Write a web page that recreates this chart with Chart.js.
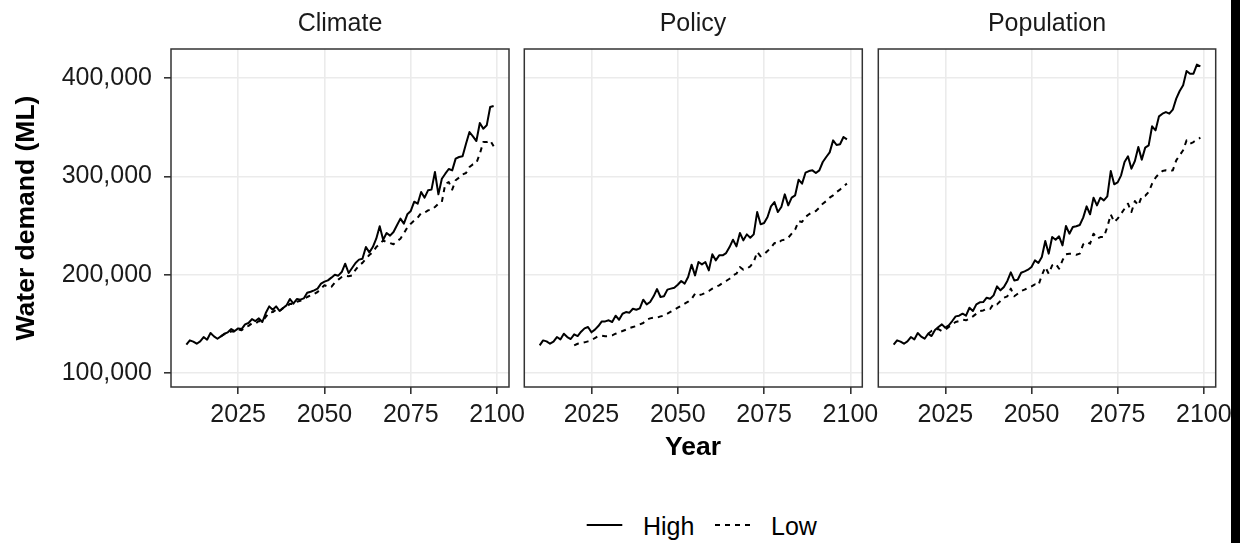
<!DOCTYPE html>
<html>
<head>
<meta charset="utf-8">
<script src="https://cdn.jsdelivr.net/npm/chart.js@4.4.1/dist/chart.umd.min.js"></script>
<style>
  body { margin: 0; background: #fff; }
  #wrap { position: relative; width: 1240px; height: 543px; overflow: hidden;
          font-family: 'Liberation Sans', Arial, sans-serif; color: #000; }
  #wrap canvas { position: absolute; left: 0; top: 0; }
  .txt { position: absolute; font-size: 25px; line-height: 24px; white-space: nowrap; }
  .strip { width: 400px; text-align: center; top: 10px; color: #1a1a1a; }
  .bold { font-weight: bold; font-size: 26.5px; }
  #edge { position: absolute; left: 1231px; top: 0; width: 9px; height: 543px; background: #000; }
</style>
</head>
<body>
<div id="wrap">
  <canvas id="pClimate" width="1240" height="440"></canvas>
  <canvas id="pPolicy" width="1240" height="440"></canvas>
  <canvas id="pPopulation" width="1240" height="440"></canvas>

  <div class="txt strip" style="left:140px">Climate</div>
  <div class="txt strip" style="left:493px">Policy</div>
  <div class="txt strip" style="left:847px">Population</div>

  <div class="txt bold" style="left:-125px; top:206px; width:300px; text-align:center; transform:rotate(-90deg)">Water demand (ML)</div>
  <div class="txt bold" style="left:593px; top:434px; width:200px; text-align:center">Year</div>

  <svg style="position:absolute; left:580px; top:515px" width="260" height="20">
    <line x1="6.7" y1="10" x2="42.3" y2="10" stroke="#000" stroke-width="2"/>
    <line x1="135" y1="10" x2="172.3" y2="10" stroke="#000" stroke-width="2" stroke-dasharray="5,5"/>
  </svg>
  <div class="txt" style="left:643px; top:514px">High</div>
  <div class="txt" style="left:771px; top:514px">Low</div>

  <div id="edge"></div>
</div>

<script>
// years on the x axis, Low scenarios start in 2020
var years = [2010,2011,2012,2013,2014,2015,2016,2017,2018,2019,
  2020,2021,2022,2023,2024,2025,2026,2027,2028,2029,
  2030,2031,2032,2033,2034,2035,2036,2037,2038,2039,
  2040,2041,2042,2043,2044,2045,2046,2047,2048,2049,
  2050,2051,2052,2053,2054,2055,2056,2057,2058,2059,
  2060,2061,2062,2063,2064,2065,2066,2067,2068,2069,
  2070,2071,2072,2073,2074,2075,2076,2077,2078,2079,
  2080,2081,2082,2083,2084,2085,2086,2087,2088,2089,
  2090,2091,2092,2093,2094,2095,2096,2097,2098,2099];
var lowYears = years.slice(10);

var xTicks = [2025, 2050, 2075, 2100];
var yTicks = [100000, 200000, 300000, 400000];

// water demand (ML)
var climateHigh = [128800,133200,131900,129800,132200,136600,133900,140700,137300,134900,
  137300,140000,141400,144700,142700,145400,144700,149500,150900,154900,
  152900,155600,151900,161000,167800,164400,167800,163100,166100,168800,
  175300,170500,175300,174600,175900,181700,182700,184100,185800,190900,
  192900,194200,197000,200000,199000,202700,211200,201700,206800,211900,
  215300,216300,228100,222700,228100,236600,249200,235600,242400,239700,
  243400,250200,257000,251900,261400,264800,274200,272200,284100,278300,
  285800,286500,304400,281700,297600,302700,307500,306100,318000,319700,
  320400,333200,345100,340700,335900,354300,348500,351900,370500,371500];
var climateLow = [137300,139500,140500,142500,142000,144500,143500,146500,148000,150500,
  150200,153000,152500,157000,161500,162000,164500,163000,166000,167000,
  170500,170000,172500,173500,175000,177300,179000,180500,182400,186000,
  189200,188000,187500,192000,195000,197600,199000,198500,199300,205000,
  209500,212000,216300,220000,223000,228100,231000,234900,233000,232200,
  230900,234000,236600,242000,248000,251900,255000,258000,262700,263000,
  265400,266000,268800,272200,273900,292600,294200,286500,296000,298700,
  302000,303400,309500,312200,313600,323000,334900,334900,336600,330500];

var policyHigh = [128100,133200,132200,129800,131900,136600,134200,140000,136600,134600,
  139300,137600,142000,145400,146800,141400,144100,147800,152500,152500,
  153600,151900,158300,154200,160300,162000,161400,165400,164400,165800,
  174600,169800,172200,178000,185400,177300,178000,184800,185800,186800,
  189800,193600,190900,197600,210200,199300,212900,210500,212900,204400,
  220700,214600,219700,219700,222000,228100,235600,228800,242400,234900,
  241000,237600,241000,263700,251200,252600,258700,269500,273900,263700,
  268800,281700,270500,278300,280700,296600,292600,303700,305400,306100,
  303400,306100,314600,319700,324400,336600,331900,332600,340000,337600];
var policyLow = [128100,129800,130500,131200,132200,133200,135600,137600,138000,137300,
  137600,138300,140000,141400,142700,144100,145800,146800,147800,149500,
  150900,154200,155600,156300,156300,157600,158300,160300,162400,164400,
  166400,168500,170500,172500,175300,180700,179000,180000,181400,183400,
  185800,187500,189200,191500,193600,195900,199300,201000,207800,205100,
  206100,208500,212900,223100,218700,220700,224100,227500,232200,231500,
  234900,235600,237600,241700,245800,254600,253600,258700,261400,263700,
  264800,268100,272200,274900,278300,280700,284100,286500,289800,292600];

var populationHigh = [128800,133200,131900,129800,132200,136600,134200,140700,137000,134900,
  140000,137600,143700,146800,149500,146100,148500,152900,157600,158300,
  160300,158300,166400,163100,169800,171900,172200,176600,175600,179000,
  188100,184100,187500,193600,202400,194200,194900,202000,203400,205100,
  207800,214600,211900,218000,234200,221400,238300,235600,239000,229800,
  249500,241700,248500,249200,250500,258000,269500,261400,278300,270500,
  278300,275600,279700,305400,291900,293900,301000,314600,320400,307800,
  315600,329800,317000,329200,331500,350900,346800,361000,363700,365400,
  363700,367800,379000,386800,392600,407100,404400,404400,413600,411900];
var populationLow = [140000,142700,144100,144700,142700,144100,146800,149500,151900,152900,
  154200,153600,155300,157600,160300,163100,163700,165400,165100,170500,
  169800,173200,176600,178000,185800,178000,180700,183400,184800,186800,
  188100,190100,189200,199300,207800,201000,209500,211200,206100,214600,
  220700,221400,221400,220300,221400,230900,233200,231500,241700,236600,
  238300,238300,248500,261400,253600,257000,262000,267100,272200,263700,
  274900,270500,279700,280300,284100,292600,298700,302700,305400,306100,
  305400,306100,316300,321400,326500,336600,333200,334900,337300,339300];

var font = "'Liberation Sans', Arial, sans-serif";

function toPoints(xs, ys) {
  return xs.map(function (x, i) { return {x: x, y: ys[i]}; });
}

// ggplot style frame drawn over the lines
var panelBorder = {
  id: 'panelBorder',
  afterDatasetsDraw: function (chart) {
    var a = chart.chartArea, ctx = chart.ctx;
    ctx.save();
    ctx.strokeStyle = '#333333';
    ctx.lineWidth = 1.5;
    ctx.strokeRect(a.left, a.top, a.right - a.left, a.bottom - a.top);
    ctx.restore();
  }
};

function makePanel(id, high, low, left, right, showY) {
  var ctx = document.getElementById(id).getContext('2d');
  return new Chart(ctx, {
    type: 'line',
    data: {
      datasets: [{
        label: 'High',
        data: toPoints(years, high),
        borderColor: '#000',
        borderWidth: 2,
        borderJoinStyle: 'round',
        pointRadius: 0,
        tension: 0
      }, {
        label: 'Low',
        data: toPoints(lowYears, low),
        borderColor: '#000',
        borderWidth: 2,
        borderDash: [5, 5],
        borderJoinStyle: 'round',
        pointRadius: 0,
        tension: 0
      }]
    },
    options: {
      responsive: false,
      animation: false,
      devicePixelRatio: 1,
      layout: {padding: {left: left, right: 1240 - right, top: 49, bottom: 0}},
      plugins: {legend: {display: false}, tooltip: {enabled: false}},
      scales: {
        x: {
          type: 'linear',
          min: 2005.55,
          max: 2103.45,
          afterBuildTicks: function (s) { s.ticks = xTicks.map(function (v) { return {value: v}; }); },
          afterFit: function (s) { s.height = 53; },
          border: {display: false},
          grid: {color: '#ebebeb', lineWidth: 1.6, tickColor: '#333333', tickLength: 7},
          ticks: {color: '#1a1a1a', padding: 6, maxRotation: 0, font: {family: font, size: 25},
                  callback: function (v) { return String(v); }}
        },
        y: {
          min: 85800,
          max: 429500,
          afterBuildTicks: function (s) { s.ticks = yTicks.map(function (v) { return {value: v}; }); },
          afterFit: function (s) { s.width = showY ? 171 : 0; },
          border: {display: false},
          grid: {color: '#ebebeb', lineWidth: 1.6, tickColor: '#333333', tickLength: 7, drawTicks: showY},
          ticks: {display: showY, color: '#1a1a1a', padding: 12, font: {family: font, size: 25},
                  callback: function (v) { return v.toLocaleString('en-US'); }}
        }
      }
    },
    plugins: [panelBorder]
  });
}

makePanel('pClimate', climateHigh, climateLow, 0, 509, true);
makePanel('pPolicy', policyHigh, policyLow, 524.3, 862.3, false);
makePanel('pPopulation', populationHigh, populationLow, 878.3, 1215.7, false);
</script>
</body>
</html>
